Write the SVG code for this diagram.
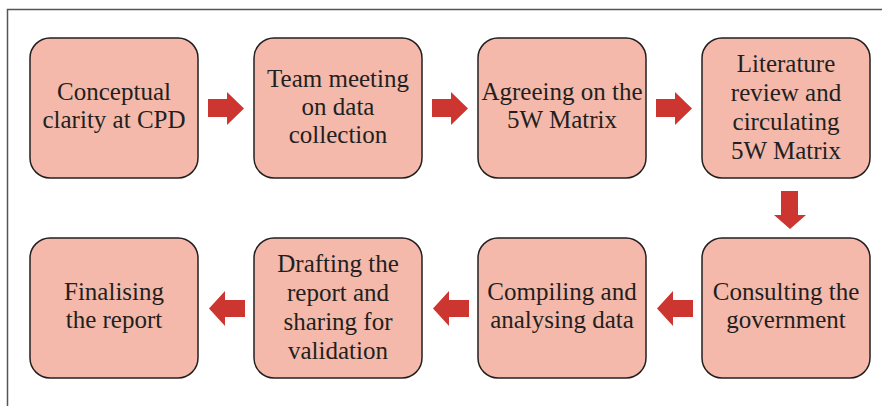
<svg xmlns="http://www.w3.org/2000/svg" width="887" height="406" viewBox="0 0 887 406">
<defs>
<style>
.box{fill:#f4b9aa;stroke:#231f20;stroke-width:1.5}
.t{font-family:"Liberation Serif","Times New Roman",serif;font-size:25px;fill:#231f20;text-anchor:middle}
.arr{fill:#cc3530}
.frame{stroke:#555;stroke-width:1.5;fill:none}
</style>
</defs>
<rect width="887" height="406" fill="#fff"/>
<path class="frame" d="M7.5,406 V9.5 H882"/>
<g id="n1"><rect class="box" x="30" y="38" width="168" height="140" rx="20"/><text class="t" x="114" y="100">Conceptual</text><text class="t" x="114" y="128">clarity at CPD</text></g>
<g id="n2"><rect class="box" x="254" y="38" width="168" height="140" rx="20"/><text class="t" x="338" y="87">Team meeting</text><text class="t" x="338" y="115">on data</text><text class="t" x="338" y="143">collection</text></g>
<g id="n3"><rect class="box" x="478" y="38" width="168" height="140" rx="20"/><text class="t" x="562" y="100">Agreeing on the</text><text class="t" x="562" y="128">5W Matrix</text></g>
<g id="n4"><rect class="box" x="702" y="38" width="168" height="140" rx="20"/><text class="t" x="786" y="72">Literature</text><text class="t" x="786" y="101">review and</text><text class="t" x="786" y="130">circulating</text><text class="t" x="786" y="159">5W Matrix</text></g>
<g id="n5"><rect class="box" x="30" y="238" width="168" height="140" rx="20"/><text class="t" x="114" y="300">Finalising</text><text class="t" x="114" y="328">the report</text></g>
<g id="n6"><rect class="box" x="254" y="238" width="168" height="140" rx="20"/><text class="t" x="338" y="272">Drafting the</text><text class="t" x="338" y="301">report and</text><text class="t" x="338" y="330">sharing for</text><text class="t" x="338" y="359">validation</text></g>
<g id="n7"><rect class="box" x="478" y="238" width="168" height="140" rx="20"/><text class="t" x="562" y="300">Compiling and</text><text class="t" x="562" y="328">analysing data</text></g>
<g id="n8"><rect class="box" x="702" y="238" width="168" height="140" rx="20"/><text class="t" x="786" y="300">Consulting the</text><text class="t" x="786" y="328">government</text></g>
<g id="connectors">
<polygon class="arr" points="208,99 227,99 227,92 244,108.5 227,125 227,117 208,117"/>
<polygon class="arr" points="432,99 451,99 451,92 468,108.5 451,125 451,117 432,117"/>
<polygon class="arr" points="656,99 675,99 675,92 692,108.5 675,125 675,117 656,117"/>
<polygon class="arr" points="781,191 798,191 798,215 806,215 790,229 774,215 781,215"/>
<polygon class="arr" points="693,300 673,300 673,291 657,308.5 673,326 673,317 693,317"/>
<polygon class="arr" points="469,300 449,300 449,291 433,308.5 449,326 449,317 469,317"/>
<polygon class="arr" points="245,300 225,300 225,291 209,308.5 225,326 225,317 245,317"/>
</g>
</svg>
